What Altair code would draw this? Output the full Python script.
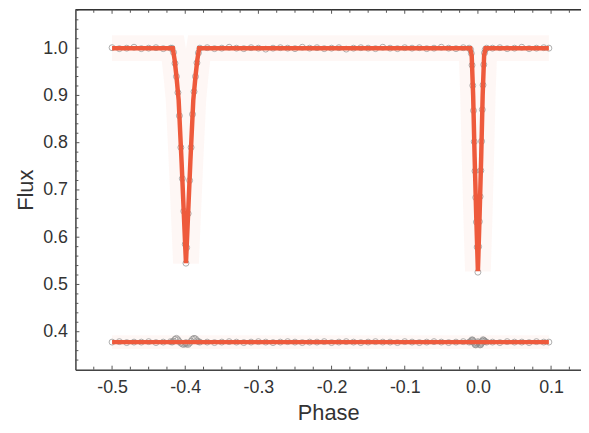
import altair as alt
import pandas as pd

# ---------------- data ----------------
obs_phase = [
    -0.50, -0.49, -0.48, -0.47, -0.46, -0.45, -0.44, -0.43, -0.42,
    -0.418, -0.416, -0.414, -0.412, -0.410, -0.408, -0.406, -0.404, -0.402, -0.400, -0.399,
    -0.398, -0.396, -0.394, -0.392, -0.390, -0.388, -0.386, -0.384, -0.382, -0.380,
    -0.37, -0.36, -0.35, -0.34, -0.33, -0.32, -0.31, -0.30, -0.29, -0.28,
    -0.27, -0.26, -0.25, -0.24, -0.23, -0.22, -0.21, -0.20, -0.19, -0.18,
    -0.17, -0.16, -0.15, -0.14, -0.13, -0.12, -0.11, -0.10, -0.09, -0.08,
    -0.07, -0.06, -0.05, -0.04, -0.03, -0.02,
    -0.012, -0.010, -0.009, -0.008, -0.007, -0.006, -0.005, -0.004, -0.003, -0.002, -0.001, 0.000,
    0.001, 0.002, 0.003, 0.004, 0.005, 0.006, 0.007, 0.008, 0.009, 0.010, 0.012,
    0.02, 0.03, 0.04, 0.05, 0.06, 0.07, 0.08, 0.09, 0.097,
]
obs_flux = [
    1.001, 0.999, 1.000, 1.002, 0.999, 1.000, 1.001, 0.999, 1.000,
    1.000, 0.991, 0.968, 0.940, 0.906, 0.857, 0.790, 0.724, 0.655, 0.585, 0.545,
    0.578, 0.650, 0.720, 0.790, 0.860, 0.908, 0.940, 0.969, 0.990, 1.000,
    1.001, 0.999, 1.000, 1.002, 1.000, 0.999, 1.001, 1.000, 0.998, 1.000,
    1.001, 1.000, 0.999, 1.002, 1.000, 1.001, 0.999, 1.000, 1.001, 0.998,
    1.000, 1.001, 1.000, 0.999, 1.002, 1.000, 0.999, 1.001, 1.000, 1.001,
    0.999, 1.000, 1.002, 1.000, 0.999, 1.001,
    1.000, 0.997, 0.989, 0.964, 0.921, 0.868, 0.802, 0.740, 0.684, 0.632, 0.579, 0.526,
    0.580, 0.633, 0.686, 0.741, 0.803, 0.870, 0.922, 0.965, 0.990, 0.997, 1.000,
    1.000, 1.001, 0.999, 1.000, 1.002, 0.999, 1.000, 1.001, 1.000,
]
resid_flux = [
    0.378, 0.379, 0.377, 0.378, 0.378, 0.379, 0.377, 0.378, 0.379,
    0.378, 0.380, 0.384, 0.386, 0.383, 0.379, 0.376, 0.374, 0.373, 0.375, 0.377,
    0.374, 0.373, 0.376, 0.380, 0.384, 0.386, 0.385, 0.381, 0.379, 0.378,
    0.378, 0.377, 0.378, 0.379, 0.378, 0.377, 0.378, 0.379, 0.378, 0.377,
    0.378, 0.379, 0.378, 0.377, 0.378, 0.378, 0.379, 0.377, 0.378, 0.379,
    0.378, 0.377, 0.378, 0.379, 0.378, 0.378, 0.377, 0.379, 0.378, 0.377,
    0.378, 0.379, 0.378, 0.377, 0.378, 0.379,
    0.378, 0.379, 0.381, 0.383, 0.382, 0.379, 0.376, 0.373, 0.372, 0.374, 0.376, 0.379,
    0.377, 0.374, 0.372, 0.373, 0.376, 0.380, 0.383, 0.382, 0.380, 0.379, 0.378,
    0.378, 0.377, 0.379, 0.378, 0.378, 0.377, 0.379, 0.378, 0.378,
]

model_phase = [-0.5, -0.417, -0.4145, -0.412, -0.409, -0.405, -0.4025, -0.399,
               -0.3955, -0.393, -0.389, -0.386, -0.3835, -0.381,
               -0.0105, -0.0085, -0.0065, -0.0045, -0.0022, 0.0,
               0.0022, 0.0045, 0.0065, 0.0085, 0.0105, 0.097]
model_flux = [1.0, 1.0, 0.975, 0.94, 0.89, 0.76, 0.67, 0.545,
              0.67, 0.76, 0.89, 0.94, 0.975, 1.0,
              1.0, 0.985, 0.90, 0.77, 0.64, 0.528,
              0.64, 0.77, 0.90, 0.985, 1.0, 1.0]
resid_model_phase = [-0.5, 0.097]
resid_model_flux = [0.378, 0.378]

x_major = [-0.5, -0.4, -0.3, -0.2, -0.1, 0.0, 0.1]
x_minor = [-0.525, -0.475, -0.45, -0.425, -0.375, -0.35, -0.325, -0.275, -0.25,
           -0.225, -0.175, -0.15, -0.125, -0.075, -0.05, -0.025, 0.025, 0.05,
           0.075, 0.125]
y_major = [0.4, 0.5, 0.6, 0.7, 0.8, 0.9, 1.0]
y_minor = [0.34, 0.36, 0.38, 0.42, 0.44, 0.46, 0.48, 0.52, 0.54, 0.56, 0.58,
           0.62, 0.64, 0.66, 0.68, 0.72, 0.74, 0.76, 0.78, 0.82, 0.84, 0.86,
           0.88, 0.92, 0.94, 0.96, 0.98, 1.02, 1.04, 1.06, 1.08]

# ---------------- chart ----------------
W, H = 510, 363
RED = "#ee5a3c"
GRAY = "#8c8c8c"
FONT = "Liberation Sans"

xs = alt.Scale(domain=[-0.5501, 0.1409], nice=False, zero=False)
ys = alt.Scale(domain=[0.3197, 1.0812], nice=False, zero=False)

obs = pd.DataFrame({"phase": obs_phase, "flux": obs_flux, "resid": resid_flux})
model = pd.DataFrame({"phase": model_phase, "flux": model_flux})
rmodel = pd.DataFrame({"phase": resid_model_phase, "flux": resid_model_flux})

x_axis = alt.Axis(
    values=x_major, title="Phase",
    labelExpr="replace(format(datum.value, '.1f'), '\u2212', '-')",
    titleY=50, titleBaseline="alphabetic",
)
y_axis = alt.Axis(values=y_major, format=".1f", title="Flux")


def X(field):
    return alt.X(field, scale=xs, axis=x_axis)


def Y(field):
    return alt.Y(field, scale=ys, axis=y_axis)


halo = alt.Chart(model).mark_line(color=RED, strokeWidth=26, opacity=0.05).encode(
    x=X("phase:Q"), y=Y("flux:Q"))
rhalo = alt.Chart(rmodel).mark_line(color=RED, strokeWidth=14, opacity=0.05).encode(
    x=X("phase:Q"), y=Y("flux:Q"))
pts = alt.Chart(obs).mark_point(shape="circle", filled=False, color=GRAY, size=36, strokeWidth=1).encode(
    x=X("phase:Q"), y=Y("flux:Q"))
rpts = alt.Chart(obs).mark_point(shape="circle", filled=False, color=GRAY, size=36, strokeWidth=1).encode(
    x=X("phase:Q"), y=Y("resid:Q"))
line = alt.Chart(model).mark_line(color=RED, strokeWidth=4.5).encode(
    x=X("phase:Q"), y=Y("flux:Q"))
rline = alt.Chart(rmodel).mark_line(color=RED, strokeWidth=4.5).encode(
    x=X("phase:Q"), y=Y("flux:Q"))


def xticks(vals, length):
    d = pd.DataFrame({"v": vals})
    b = alt.Chart(d).mark_rule(color="#555", strokeWidth=1).encode(
        x=X("v:Q"), y=alt.value(H), y2=alt.value(H - length))
    t = alt.Chart(d).mark_rule(color="#555", strokeWidth=1).encode(
        x=X("v:Q"), y=alt.value(0), y2=alt.value(length))
    return [b, t]


def yticks(vals, length):
    d = pd.DataFrame({"v": vals})
    return [alt.Chart(d).mark_rule(color="#555", strokeWidth=1).encode(
        y=Y("v:Q"), x=alt.value(0), x2=alt.value(length))]


top = alt.Chart(pd.DataFrame({"a": [0]})).mark_rule(color="#333", strokeWidth=1.5).encode(
    x=alt.value(0), x2=alt.value(W), y=alt.value(0))

layers = [halo, rhalo, pts, rpts, line, rline, top]
layers += xticks(x_major, 4) + xticks(x_minor, 3) + yticks(y_major, 4) + yticks(y_minor, 3)

chart = alt.layer(*layers).properties(
    width=W, height=H,
    autosize=alt.AutoSizeParams(type="none"),
    padding={"left": 68, "top": 0, "right": 0, "bottom": 54},
).configure_view(stroke=None).configure(background="white").configure_axis(
    ticks=False, grid=False, domainColor="#444", domainWidth=1.5,
    labelFontSize=18, labelColor="#333", labelFont=FONT,
    titleFontSize=22, titleFontWeight="normal", titleColor="#333", titleFont=FONT,
).configure_axisX(labelPadding=9).configure_axisY(labelPadding=8, titlePadding=5)

chart.save("out.html", embed_options={"renderer": "svg", "actions": False})
